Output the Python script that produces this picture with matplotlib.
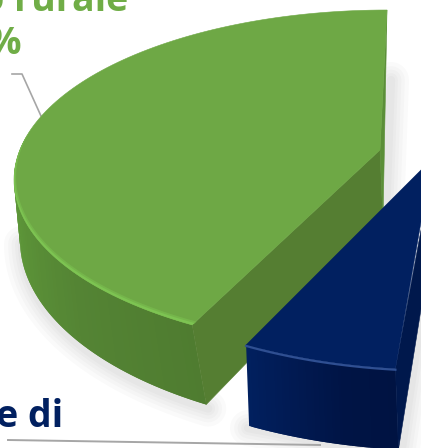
import numpy as np
import matplotlib
matplotlib.use("Agg")
from matplotlib import pyplot as plt
from matplotlib.colors import to_rgb

# only two slices of the pie are inside the crop
slice_names = ["Turismo rurale", "Case di"]
slice_shares = [41.25, 6.8]
share_labels = ["41%"]

GREEN_TOP = "#6ea845"
GREEN_LIGHT = "#7dc452"
GREEN_MID = "#75b64b"
GREEN_INNER = "#557e32"
GREEN_SIDE = "#5b8f38"
BLUE_TOP = "#012060"
BLUE_LIGHT = "#2f4f92"
BLUE_SIDE = "#00184c"
LINE = "#a6a6a6"

# ellipse geometry in pixels
TOP = dict(cx=387, cy=180, a=373, b=170)
BASE = dict(cx=410, cy=240, a=390, b=193)
APEX = (380, 150)
APEX_BASE = (383, 222)
BLUE_OFF = (54, 20)
BLUE_APEX = (432, 159)
BLUE_DROP = 81


def arc(e, t0, t1, off=(0, 0), scale=1.0, n=120):
    t = np.radians(np.linspace(t0, t1, n))
    x = e["cx"] + off[0] + e["a"] * scale * np.cos(t)
    y = e["cy"] + off[1] - e["b"] * scale * np.sin(t)
    return x, y


def wall(ax, e1, e2, t0, t1, colors, off=(0, 0), off2=(0, 0), z=3, n=60):
    # strips overlap the next one so no seams show in the gradient
    edges = np.linspace(t0, t1, n + 1)
    stops = np.array([to_rgb(c) for c in colors])
    pos = np.linspace(0, 1, len(colors))
    for i in range(n):
        end = edges[min(i + 2, n)]
        xa, ya = arc(e1, edges[i], end, off, n=4)
        xb, yb = arc(e2, edges[i], end, off2, n=4)
        f = (i + 0.5) / n
        c = [np.interp(f, pos, stops[:, k]) for k in range(3)]
        ax.fill(np.r_[xa, xb[::-1]], np.r_[ya, yb[::-1]], color=c, lw=0, zorder=z)


def soft_shadow(ax, x, y):
    for lw in [26, 20, 15, 10, 6]:
        ax.plot(x, y, color="black", alpha=0.02, lw=lw, zorder=1,
                solid_capstyle="round")


def edge_band(ax, t0, t1, inner, color, z):
    ox, oy = arc(TOP, t0, t1)
    ramp = np.linspace(1.0, inner, 120)
    ix = TOP["cx"] + (ox - TOP["cx"]) * ramp
    iy = TOP["cy"] + (oy - TOP["cy"]) * ramp
    ax.fill(np.r_[ox, ix[::-1]], np.r_[oy, iy[::-1]], color=color, lw=0, zorder=z)


t_start = 90
t_green = t_start + 360 * slice_shares[0] / 100
t_blue = t_green + 360 * slice_shares[1] / 100

fig = plt.figure(figsize=(4.21, 4.48), dpi=100)
ax = fig.add_axes([0, 0, 1, 1])
ax.set_xlim(0, 421)
ax.set_ylim(448, 0)
ax.axis("off")

# shadows
bx, by = arc(BASE, 180, t_green)
soft_shadow(ax, bx + 2, by + 4)
soft_shadow(ax, np.array([391, 386]), np.array([80, 215]))
soft_shadow(ax, np.array([248, 330, 398]), np.array([428, 444, 452]))
soft_shadow(ax, np.array([402, 425]), np.array([448, 290]))

# green slice
wall(ax, TOP, BASE, 165, t_green, ["#67a03f", "#5c9438", "#548434", "#4f7c30"])
ex, ey = arc(BASE, t_green, t_green, n=1)
tx, ty = arc(TOP, t_green, t_green, n=1)
top_x, top_y = arc(TOP, t_start, t_green)
ax.fill([APEX[0], tx[0], ex[0], APEX_BASE[0]], [APEX[1], ty[0], ey[0], APEX_BASE[1]],
        color=GREEN_INNER, lw=0.4, zorder=4)
ax.fill([top_x[0], APEX_BASE[0], APEX[0]], [top_y[0], APEX_BASE[1], APEX[1]],
        color=GREEN_SIDE, lw=0.4, zorder=4)
ax.fill(np.r_[APEX[0], top_x], np.r_[APEX[1], top_y], color=GREEN_TOP, lw=0.4, zorder=5)

# light edge along the front of the green top
edge_band(ax, 160, t_green, 0.977, GREEN_MID, 6)
edge_band(ax, 165, t_green, 0.987, GREEN_LIGHT, 6.5)

# blue slice, pulled out of the pie
fx, fy = arc(TOP, t_green, t_blue, BLUE_OFF)
wall(ax, TOP, TOP, t_green, t_blue, ["#01205f", "#011a52", "#001445", "#001342"],
     off=BLUE_OFF, off2=(BLUE_OFF[0] + 3, BLUE_OFF[1] + BLUE_DROP), z=7)
ax.fill([fx[-1], fx[-1] + 3, 445, 445], [fy[-1], fy[-1] + BLUE_DROP, 160, 100],
        color=BLUE_SIDE, lw=0.4, zorder=7)
ax.fill(np.r_[BLUE_APEX[0], fx], np.r_[BLUE_APEX[1], fy], color=BLUE_TOP, lw=0.4, zorder=8)
ax.plot(fx, fy + 1, color=BLUE_LIGHT, lw=1.6, zorder=9)

# leader lines
ax.plot([12, 22, 41], [74, 74, 116], color=LINE, lw=1.2, zorder=2)
ax.plot([8, 320], [440, 445], color=LINE, lw=1.4, zorder=2)

# labels, cut off by the crop like in the original
ax.text(128, 11, slice_names[0], color="#70ad47", fontsize=27, fontweight="bold",
        family="Open Sans", ha="right", va="baseline", zorder=10)
ax.text(22, 54, share_labels[0], color="#70ad47", fontsize=27, fontweight="bold",
        family="Open Sans", ha="right", va="baseline", zorder=10)
ax.text(63, 427, slice_names[1], color="#012060", fontsize=27, fontweight="bold",
        family="Open Sans", ha="right", va="baseline", zorder=10)

fig.savefig("out.png", dpi=100)
